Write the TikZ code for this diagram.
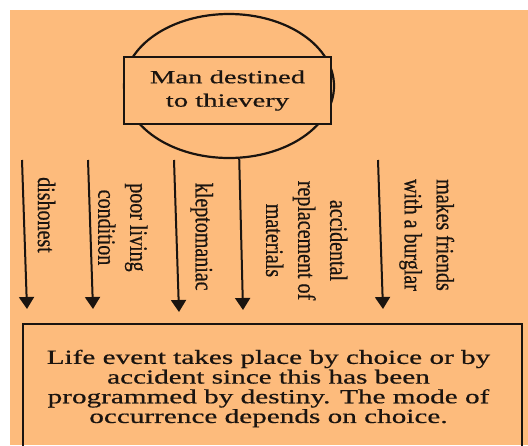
\documentclass[tikz,border=0pt]{standalone}
\usepackage{fontspec}
\setmainfont{Liberation Serif}
\newfontfamily\rotfont[FakeStretch=0.80,FakeBold=0.6]{Liberation Serif}
\newfontfamily\topfont[FakeStretch=1.54,FakeBold=0.6]{Liberation Serif}
\newfontfamily\botfont[FakeStretch=1.46,FakeBold=0.6]{Liberation Serif}
\usetikzlibrary{shapes.geometric,arrows.meta}
\definecolor{bg}{HTML}{FDBB7C}
\definecolor{ink}{HTML}{1A1410}
\tikzset{
  lbl/.style={rotate=-90, inner sep=0pt, align=center, text=ink,
    font=\rotfont\fontsize{25}{32}\selectfont},
  arr/.style={draw=ink, line width=2pt, -{Triangle[width=15pt,length=12pt]}},
  frame/.style={draw=ink, line width=2.2pt}
}
\begin{document}
\begin{tikzpicture}[x=1pt,y=-1pt]
\useasboundingbox (0,0) rectangle (528,445);
\clip (0,0) rectangle (528,445);
\fill[white] (0,0) rectangle (528,445);
\fill[bg] (10,10) rectangle (528,445);
% top ellipse and box
\node[ellipse, frame, minimum width=210pt, minimum height=144pt, inner sep=0pt] (ell) at (229,86) {};
\node[frame, fill=bg, minimum width=207pt, minimum height=67pt, inner sep=0pt, align=center,
  text=ink, font=\topfont\fontsize{18.6}{23.4}\selectfont] (man) at (227.5,90.5) {Man destined\\to thievery};
% arrow ends
\coordinate (s1) at (22,160);  \coordinate (e1) at (27,309);
\coordinate (s2) at (88,160);  \coordinate (e2) at (93,309);
\coordinate (s3) at (174,160); \coordinate (e3) at (179,312);
\coordinate (e4) at (243,310);
\coordinate (s5) at (378,160); \coordinate (e5) at (383,309);
\draw[arr] (s1) -- (e1);
\draw[arr] (s2) -- (e2);
\draw[arr] (s3) -- (e3);
\draw[arr] (ell.-82) -- (e4);
\draw[arr] (s5) -- (e5);
% labels
\node[lbl] (l1) at (46.5,215) {dishonest};
\node[lbl] (l2) at (122.8,227.5) {poor living\\condition};
\node[lbl] (l3) at (201.7,236.7) {kleptomaniac};
\node[lbl] (l4) at (306.7,240.5) {accidental\\replacement of\\materials};
\node[lbl] (l5) at (426.7,235) {makes friends\\with a burglar};
% bottom box
\node[frame, minimum width=499pt, minimum height=140pt, inner sep=0pt, anchor=north] (res) at (272.5,323) {};
\node[inner sep=0pt, align=center, text=ink, font=\botfont\fontsize{20}{19.7}\selectfont] (restext) at (268.5,388.5)
  {Life event takes place by choice or by\\accident since this has been\\programmed by destiny. The mode of\\occurrence depends on choice.};
\end{tikzpicture}
\end{document}
